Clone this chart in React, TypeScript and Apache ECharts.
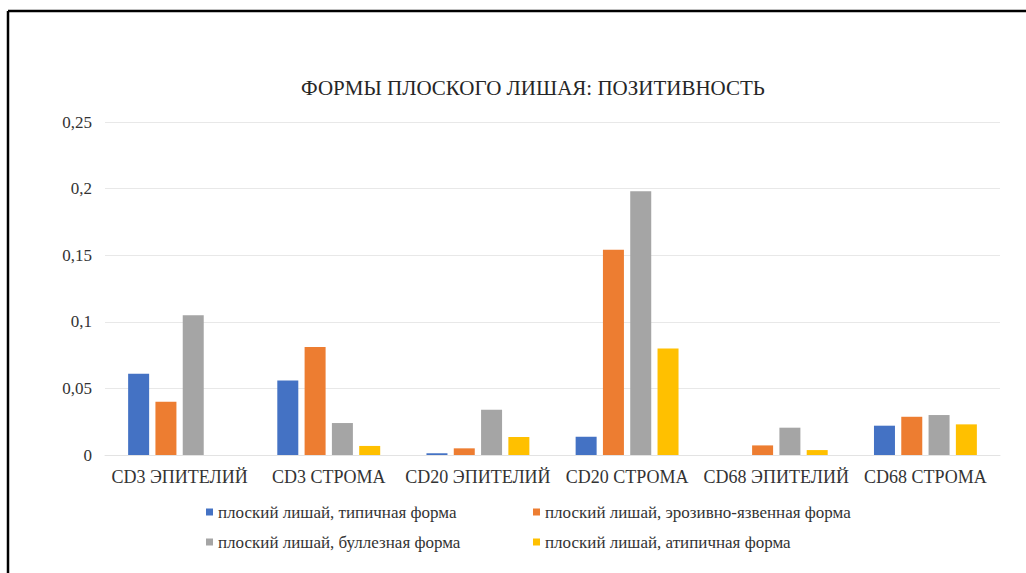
import React, { useEffect, useRef } from "react";
import * as echarts from "echarts";

const categories = [
  "CD3 ЭПИТЕЛИЙ",
  "CD3 СТРОМА",
  "CD20 ЭПИТЕЛИЙ",
  "CD20 СТРОМА",
  "CD68 ЭПИТЕЛИЙ",
  "CD68 СТРОМА",
];

const seriesNames = [
  "плоский лишай, типичная форма",
  "плоский лишай, эрозивно-язвенная форма",
  "плоский лишай, буллезная форма",
  "плоский лишай, атипичная форма",
];

const typical = [0.061, 0.056, 0.0013, 0.0137, 0, 0.022];
const erosive = [0.04, 0.081, 0.005, 0.154, 0.0072, 0.0287];
const bullous = [0.105, 0.024, 0.034, 0.198, 0.0205, 0.03];
const atypical = [0, 0.0068, 0.0135, 0.08, 0.0037, 0.023];

const seriesValues = [typical, erosive, bullous, atypical];
const colors = ["#4472C4", "#ED7D31", "#A5A5A5", "#FFC000"];

const yTicks = { min: 0, max: 0.25, interval: 0.05 };

const titleText = "ФОРМЫ ПЛОСКОГО ЛИШАЯ: ПОЗИТИВНОСТЬ";

const FONT = "Liberation Serif";
const TEXT_COLOR = "#333333";

export default function App() {
  const ref = useRef<HTMLDivElement>(null);

  useEffect(() => {
    if (!ref.current) return;
    const chart = echarts.init(ref.current, undefined, { renderer: "svg" });

    const legendText = {
      fontFamily: FONT,
      fontSize: 17,
      color: TEXT_COLOR,
      lineHeight: 18,
    };

    chart.setOption({
      animation: false,
      backgroundColor: "#ffffff",
      graphic: [
        {
          type: "text",
          x: 533,
          y: 88,
          style: {
            text: titleText,
            fontFamily: FONT,
            fontSize: 21,
            fill: "#262626",
            textAlign: "center",
            textVerticalAlign: "middle",
          },
        },
        {
          type: "line",
          shape: { x1: 8, y1: 11, x2: 1026, y2: 11 },
          style: { stroke: "#000000", lineWidth: 2.5 },
        },
        {
          type: "line",
          shape: { x1: 8, y1: 11, x2: 8, y2: 573 },
          style: { stroke: "#000000", lineWidth: 2.5 },
        },
      ],
      legend: [
        {
          orient: "vertical",
          left: 201,
          top: 498,
          itemWidth: 7,
          itemHeight: 7,
          itemGap: 12,
          icon: "rect",
          data: [seriesNames[0], seriesNames[2]],
          textStyle: legendText,
        },
        {
          orient: "vertical",
          left: 528,
          top: 498,
          itemWidth: 7,
          itemHeight: 7,
          itemGap: 12,
          icon: "rect",
          data: [seriesNames[1], seriesNames[3]],
          textStyle: legendText,
        },
      ],
      grid: { left: 105, right: 26, top: 122, bottom: 118 },
      xAxis: {
        type: "category",
        data: categories,
        axisTick: { show: false },
        axisLine: { show: true, lineStyle: { color: "#e3e3e3", width: 1 } },
        axisLabel: {
          interval: 0,
          fontFamily: FONT,
          fontSize: 18,
          color: TEXT_COLOR,
          margin: 13,
        },
      },
      yAxis: {
        type: "value",
        min: yTicks.min,
        max: yTicks.max,
        interval: yTicks.interval,
        axisLine: { show: false },
        axisTick: { show: false },
        splitLine: { lineStyle: { color: "#e8e8e8", width: 1 } },
        axisLabel: {
          fontFamily: FONT,
          fontSize: 17,
          color: TEXT_COLOR,
          margin: 13,
          formatter: (v: number) => String(Number(v.toFixed(2))).replace(".", ","),
        },
      },
      series: seriesValues.map((vals, i) => ({
        name: seriesNames[i],
        type: "bar",
        data: vals,
        barWidth: 21,
        barGap: "30%",
        itemStyle: { color: colors[i] },
      })),
    });

    return () => chart.dispose();
  }, []);

  return (
    <div
      ref={ref}
      style={{ position: "fixed", left: 0, top: 0, width: 1026, height: 573 }}
    />
  );
}
